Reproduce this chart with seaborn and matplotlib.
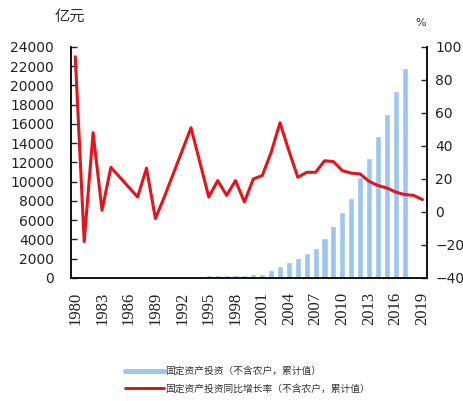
import seaborn as sns
import matplotlib.pyplot as plt
import pandas as pd

years = [str(y) for y in range(1980, 2020)]

# 固定资产投资（不含农户，累计值），亿元，1980-2017
invest = [9, 8, 12, 12, 15, 19, 22, 24, 30, 28,
          31, 38, 150, 180, 200, 260, 300, 320, 330, 350,
          380, 420, 800, 1200, 1680, 2050, 2550, 3100, 4100, 5380,
          6850, 8350, 10450, 12440, 14780, 17000, 19400, 21800]

# 同比增长率，%，1980-2019
growth = [94, -18, 48, 1, 27, 21, 15, 9, 26.5, -4,
          9, 23, 37, 51, 30, 9, 19, 10, 19, 6,
          20, 22, 36, 54, 37, 21, 24, 24, 31, 30.5,
          25, 23.5, 23, 18.5, 16, 14.5, 12, 10.5, 10, 7.5]

label_bar = "固定资产投资（不含农户，累计值）"
label_line = "固定资产投资同比增长率（不含农户，累计值）"

bar_df = pd.DataFrame({"year": years[:len(invest)], "value": invest})
line_df = pd.DataFrame({"pos": range(len(years)), "value": growth})

sns.set_style("white")
plt.rcParams['font.family'] = ['DejaVu Sans', 'Noto Sans CJK SC']

fig = plt.figure(figsize=(4.63, 4.01), dpi=100)
ax = fig.add_axes([0.153, 0.307, 0.769, 0.576])

sns.barplot(data=bar_df, x="year", y="value", order=years, color="#9DC5F0",
            saturation=1, width=0.68, ax=ax)
ax.set_xlim(-0.5, len(years) - 0.5)
ax.set_ylim(0, 24000)
ax.set_yticks(range(0, 24001, 2000))
ax.set_xticks(range(len(years)))
ax.set_xticklabels([y if i % 3 == 0 else "" for i, y in enumerate(years)],
                   rotation=90, family="Liberation Serif", fontsize=12)
ax.set_xlabel("")
ax.set_ylabel("")
ax.tick_params(axis="y", direction="in", length=4, width=1, labelsize=10, pad=12, colors="#222222")
ax.tick_params(axis="x", direction="in", length=4, width=1, pad=10, colors="#222222")

ax2 = ax.twinx()
sns.lineplot(data=line_df, x="pos", y="value", color="#E3141B", linewidth=2.2,
             ax=ax2, legend=False)
ax2.set_ylim(-40, 100)
ax2.set_yticks(range(-40, 101, 20))
ax2.set_xlim(-0.5, len(years) - 0.5)
ax2.set_ylabel("")
ax2.tick_params(axis="y", direction="in", length=4, width=1, labelsize=10, pad=6, colors="#222222")

for a in (ax, ax2):
    a.spines["top"].set_visible(False)
    for s in ("left", "right", "bottom"):
        a.spines[s].set_color("#111111")
        a.spines[s].set_linewidth(1.2)

fig.text(0.151, 0.96, "亿元", fontsize=11, ha="center", va="center",
         family=['Noto Sans CJK SC', 'DejaVu Sans'], color="#333333")
fig.text(0.909, 0.943, "%", fontsize=8, ha="center", va="center", color="#333333")

handles = [plt.Line2D([], [], color="#9DC5F0", linewidth=3.6),
           plt.Line2D([], [], color="#C0141B", linewidth=2)]
fig.legend(handles, [label_bar, label_line], loc="center", bbox_to_anchor=(0.535, 0.053),
           frameon=False, prop={"family": ['Noto Sans CJK SC', 'DejaVu Sans'], "size": 7},
           handlelength=4.0, handletextpad=0.1, labelspacing=0.75, labelcolor="#333333")

fig.savefig("out.png", dpi=100)
